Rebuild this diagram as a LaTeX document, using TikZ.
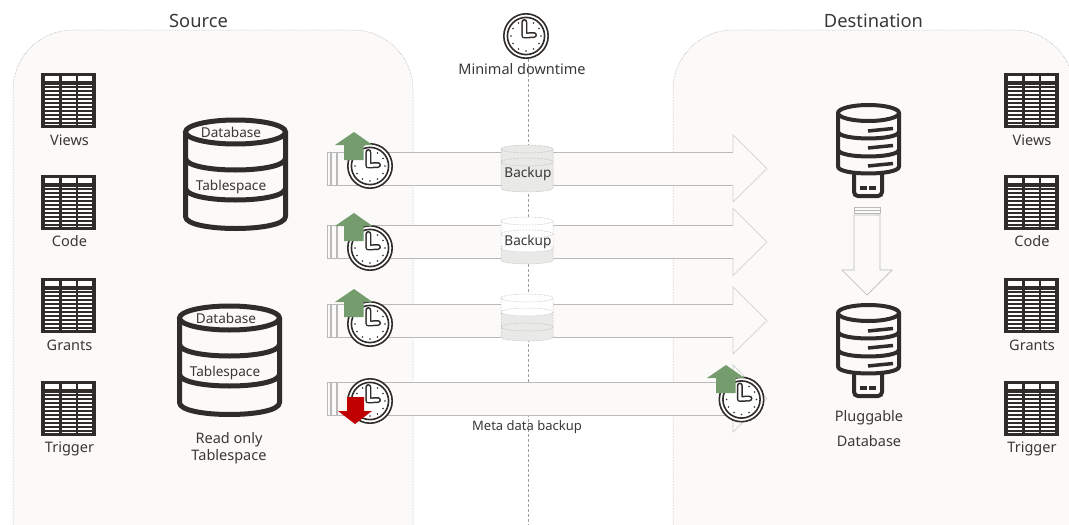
\documentclass[tikz,border=0pt]{standalone}
\usepackage{fontspec}
\setmainfont{Noto Sans}
\definecolor{panelfill}{HTML}{FBFAF8}
\definecolor{darkline}{HTML}{2F2C2A}
\definecolor{labeltext}{HTML}{3A3836}
\definecolor{upgreen}{HTML}{759C6C}
\definecolor{downred}{HTML}{C00000}
\definecolor{backupgray}{HTML}{E9E9E8}
\tikzset{
    panel/.style = {draw = gray!75, densely dotted, line width = 0.5pt, fill = panelfill, rounded corners = 60pt},
    divider/.style = {draw = gray!75, densely dashed, line width = 0.5pt},
    bodyline/.style = {draw = gray!55, line width = 0.7pt, fill = panelfill},
    label/.style = {text = labeltext, font = \fontsize{14.5}{17}\selectfont, inner sep = 0pt},
    innerlabel/.style = {text = labeltext, font = \fontsize{13.6}{16}\selectfont, inner sep = 0pt},
    title/.style = {text = labeltext, font = \fontsize{18.3}{21}\selectfont, inner sep = 0pt},
    tableicon/.pic = {
        \fill[darkline] (0, 0) rectangle (55, 55);
        \foreach \col in {4, 20.5, 37} {
            \fill[white] (\col, 3) rectangle (\col + 14, 8);
            \fill[white] (\col, 11.5) rectangle (\col + 14, 52);
            \foreach \row in {13, 17, ..., 51} {
                \fill[darkline] (\col, \row) rectangle (\col + 14, \row + 2);
            }
        }
    },
    clockicon/.pic = {
        \draw[darkline, line width = 1.6pt, fill = white] (0, 0) circle (22.2pt);
        \draw[darkline, line width = 1.6pt, fill = white] (0, 0) circle (18.6pt);
        \foreach \a in {0, 30, ..., 330} {
            \fill[darkline] (\a:15pt) circle (0.9pt);
        }
        \draw[darkline, line width = 6pt, line join = round, line cap = round] (-1.7, -14) -- (-1.7, -0.5) -- (8, -1);
        \draw[white, line width = 3pt, line join = round, line cap = round] (-1.7, -14) -- (-1.7, -0.5) -- (8, -1);
    },
    dbicon/.pic = {
        \draw[darkline, line width = 5pt, fill = panelfill, line join = round] (-50, 0) -- (-50, 84.5)
            .. controls (-50, 100.5) and (50, 100.5) .. (50, 84.5) -- (50, 0);
        \draw[darkline, line width = 5pt, fill = panelfill] (0, 0) ellipse (50pt and 12pt);
        \draw[darkline, line width = 5pt] (-50, 26) .. controls (-50, 42) and (50, 42) .. (50, 26);
        \draw[darkline, line width = 5pt] (-50, 56) .. controls (-50, 72) and (50, 72) .. (50, 56);
    },
    plugicon/.pic = {
        \draw[darkline, line width = 4pt, fill = panelfill, rounded corners = 4pt] (-14.5, 55) -- (-14.5, 83) -- (13.5, 83) -- (13.5, 55);
        \draw[darkline, line width = 4pt, fill = panelfill] (-30.5, 0) -- (-30.5, 53.5)
            .. controls (-30.5, 62.8) and (30.5, 62.8) .. (30.5, 53.5) -- (30.5, 0);
        \draw[darkline, line width = 4pt, fill = panelfill] (0, 0) ellipse (30.5pt and 8pt);
        \draw[darkline, line width = 4pt] (-30.5, 18.5) .. controls (-30.5, 27.8) and (30.5, 27.8) .. (30.5, 18.5);
        \draw[darkline, line width = 4pt] (-30.5, 36.5) .. controls (-30.5, 45.8) and (30.5, 45.8) .. (30.5, 36.5);
        \draw[darkline, line width = 3.5pt] (-0.5, 18) -- (24.5, 15.5);
        \draw[darkline, line width = 3.5pt] (-0.5, 35) -- (24.5, 32.5);
        \draw[darkline, line width = 3.5pt] (-0.5, 53) -- (24.5, 50.5);
        \fill[darkline] (-8.5, 73) rectangle (-1.5, 77);
        \fill[darkline] (0.5, 73) rectangle (7.5, 77);
    },
    uparrow/.pic = {
        \fill[upgreen] (0, -28) -- (18.5, -15) -- (9.5, -15) -- (9.5, 0) -- (-10, 0) -- (-10, -15) -- (-19, -15) -- cycle;
    },
    downarrow/.pic = {
        \fill[downred] (0, 27) -- (17, 14) -- (9, 14) -- (9, 0) -- (-8, 0) -- (-8, 14) -- (-17, 14) -- cycle;
    }
}
% one wide arrow, argument is its middle line
\newcommand{\widearrow}[1]{
    \draw[bodyline] (327, #1 - 16.5) rectangle (330, #1 + 16.5);
    \draw[bodyline] (331.5, #1 - 16.5) rectangle (336, #1 + 16.5);
    \fill[panelfill] (337, #1 - 16.5) -- (733, #1 - 16.5) -- (733, #1 - 33.5) -- (767, #1) -- (733, #1 + 33.5) -- (733, #1 + 16.5) -- (337, #1 + 16.5) -- cycle;
    \draw[gray!55, line width = 0.7pt] (733, #1 - 16.5) -- (337, #1 - 16.5) -- (337, #1 + 16.5) -- (733, #1 + 16.5);
    \draw[gray!35, line width = 0.7pt] (733, #1 - 16.5) -- (733, #1 - 33.5) -- (767, #1) -- (733, #1 + 33.5) -- (733, #1 + 16.5);
}
% backup drum: top line, colour of its upper part, where the grey starts, inner rings
\newcommand{\backupdrum}[4]{
    \fill[#2] (501, #1) -- (501, #1 + 39) .. controls (501, #1 + 44.3) and (553, #1 + 44.3) .. (553, #1 + 39) -- (553, #1) .. controls (553, #1 - 5.3) and (501, #1 - 5.3) .. (501, #1) -- cycle;
    \fill[backupgray] (501, #3) .. controls (501, #3 + 5.3) and (553, #3 + 5.3) .. (553, #3) -- (553, #1 + 39) .. controls (553, #1 + 44.3) and (501, #1 + 44.3) .. (501, #1 + 39) -- cycle;
    \draw[gray!70, densely dotted, line width = 0.5pt] (501, #1) -- (501, #1 + 39) .. controls (501, #1 + 44.3) and (553, #1 + 44.3) .. (553, #1 + 39) -- (553, #1);
    \draw[gray!70, densely dotted, line width = 0.5pt] (527, #1) ellipse (26pt and 4pt);
    \foreach \ring in {#4} {
        \draw[gray!70, densely dotted, line width = 0.5pt] (527, #1 + \ring) ellipse (26pt and 4pt);
    }
}
\begin{document}
\begin{tikzpicture}[x = 1pt, y = -1pt]
    \useasboundingbox (0, 0) rectangle (1069, 525);
    \clip (0, 0) rectangle (1069, 525);

    \draw[panel] (13, 600) -- (13, 30) -- (413, 30) -- (413, 600);
    \draw[panel] (673, 600) -- (673, 30) -- (1074, 30) -- (1074, 600);

    \node[title] (source) at (198.5, 20.5) {Source};
    \node[title] (destination) at (873.5, 20.5) {Destination};

    \pic at (526, 36) {clockicon};
    \coordinate (topline) at (528, 59);
    \coordinate (bottomline) at (528, 525);
    \draw[divider] (topline) -- (bottomline);
    \node[label] (downtime) at (522, 69.5) {Minimal downtime};

    \pic at (41, 73) {tableicon};
    \pic at (41, 175) {tableicon};
    \pic at (41, 278) {tableicon};
    \pic at (41, 381) {tableicon};
    \node[label] (views) at (69.5, 140.5) {Views};
    \node[label] (code) at (69.5, 241.5) {Code};
    \node[label] (grants) at (69.5, 345) {Grants};
    \node[label] (trigger) at (69.5, 449) {Trigger};

    \pic at (1004, 73) {tableicon};
    \pic at (1004, 175) {tableicon};
    \pic at (1004, 278) {tableicon};
    \pic at (1004, 381) {tableicon};
    \node[label] (views2) at (1032, 140.5) {Views};
    \node[label] (code2) at (1032, 241.5) {Code};
    \node[label] (grants2) at (1032, 345) {Grants};
    \node[label] (trigger2) at (1032, 449) {Trigger};

    \pic at (235.5, 132) {dbicon};
    \node[innerlabel] (database1) at (231, 132) {Database};
    \node[innerlabel] (tablespace1) at (231, 186.5) {Tablespace};
    \pic at (229.5, 318) {dbicon};
    \node[innerlabel] (database2) at (226, 318) {Database};
    \node[innerlabel] (tablespace2) at (225, 372.5) {Tablespace};
    \node[label] (readonly) at (229, 440) {Read only};
    \node[label] (readonly2) at (229, 457) {Tablespace};

    \widearrow{168.5}
    \widearrow{242}
    \widearrow{320.5}
    \widearrow{398.5}

    \backupdrum{149}{backupgray}{149}{13}
    \backupdrum{221}{white}{248}{13, 27}
    \backupdrum{298}{white}{312}{14, 29}
    \node[innerlabel] (backup1) at (528, 173.5) {Backup};
    \node[innerlabel] (backup2) at (528, 241.5) {Backup};
    \node[innerlabel, font = \fontsize{13}{16}\selectfont] (metadata) at (527, 427) {Meta data backup};

    \pic at (370, 166) {clockicon};
    \pic at (370, 248) {clockicon};
    \pic at (370, 324) {clockicon};
    \pic at (370, 401) {clockicon};
    \pic at (741.5, 399.5) {clockicon};
    \pic at (354, 160) {uparrow};
    \pic at (354, 241) {uparrow};
    \pic at (354, 317) {uparrow};
    \pic at (726, 393) {uparrow};
    \pic at (355, 397) {downarrow};

    \pic at (868.5, 113) {plugicon};
    \pic at (868.5, 313) {plugicon};
    \node[label] (pluggable) at (869, 418) {Pluggable};
    \node[label] (pluggable2) at (869, 441) {Database};

    % arrow between the two databases
    \draw[gray!55, line width = 0.7pt] (854, 207) rectangle (880, 210);
    \draw[gray!55, line width = 0.7pt] (854, 210) rectangle (880, 213.5);
    \draw[gray!55, line width = 0.7pt, fill = panelfill] (854, 215) -- (880, 215) -- (880, 270) -- (892, 270) -- (867, 295) -- (842, 270) -- (854, 270) -- cycle;
\end{tikzpicture}
\end{document}
